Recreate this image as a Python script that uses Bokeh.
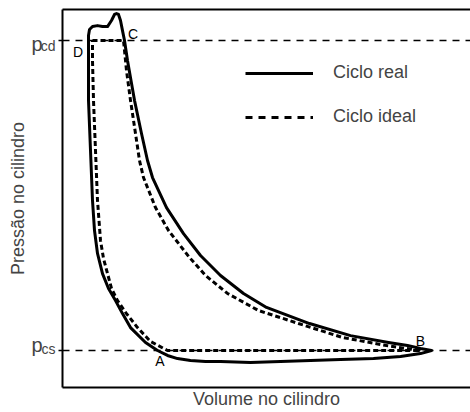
from bokeh.plotting import figure
from bokeh.models import (Range1d, LinearAxis, FixedTicker, Span, Legend,
                          LegendItem, ColumnDataSource, CustomJSTickFormatter)
from bokeh.core.properties import value
from bokeh.embed import file_html
from bokeh.resources import INLINE

FONT = "Liberation Sans"

# pressure levels (p_cs = suction, p_cd = discharge)
p_levels = [1.0, 11.0]
p_names = ["cs", "cd"]

# real cycle (solid) : volume, pressure  (suction -> B -> compression -> C -> D -> expansion)
real_v = [23.75, 26.25, 28.75, 32.0, 35.75, 39.5, 47.0, 54.5, 62.0, 69.5, 77.75,
          84.5, 89.5, 92.25, 89.5, 86.25, 81.5, 72.0, 61.75, 51.0, 45.25, 39.5,
          34.5, 30.25, 26.0, 22.5, 21.25, 19.75, 18.0, 17.125, 16.25, 15.5,
          15.0, 14.5, 14.0, 13.5, 13.0, 12.25, 11.25, 10.0, 8.75, 7.5, 6.75, 6.5,
          6.5, 6.5, 7.0, 7.5, 8.0, 8.75, 10.0, 11.5, 13.25, 15.0, 17.0, 20.75, 23.75]
real_p = [1.0, 0.84, 0.74, 0.68, 0.645, 0.645, 0.61, 0.645, 0.68, 0.71, 0.74,
          0.81, 0.90, 1.0, 1.065, 1.16, 1.26, 1.48, 1.87, 2.39, 2.84, 3.42,
          4.065, 4.77, 5.61, 6.58, 7.13, 8.0, 9.07, 9.71, 10.355, 11.0,
          11.32, 11.645, 11.84, 11.87, 11.84, 11.645, 11.45, 11.45, 11.48, 11.45,
          11.355, 11.16, 10.355, 9.07, 7.45, 5.84, 4.87, 4.13, 3.48, 3.0, 2.61,
          2.19, 1.74, 1.26, 1.0]

# ideal cycle (dashed)  D -> C -> compression -> B -> A -> expansion -> D
ideal_v = [7.5, 15.25, 16.0, 17.0, 18.25, 19.25, 20.25, 23.25, 26.5, 31.75, 35.75,
           41.25, 49.0, 59.0, 70.0, 81.0, 87.75, 89.5, 26.25, 22.0, 18.75, 16.0,
           13.75, 12.25, 10.25, 9.5, 8.75, 8.25, 7.75, 7.5, 7.5]
ideal_p = [11.0, 11.0, 10.03, 9.07, 8.0, 7.13, 6.58, 5.61, 4.87, 4.0, 3.42,
           2.84, 2.29, 1.87, 1.42, 1.16, 1.03, 1.0, 1.0, 1.29, 1.74, 2.19, 2.61,
           3.0, 3.97, 4.55, 5.84, 7.45, 9.07, 10.355, 11.0]

# state points of the ideal cycle
pt_names = ["A", "B", "C", "D"]
pt_v = [26.25, 89.5, 15.25, 7.5]
pt_p = [1.0, 1.0, 11.0, 11.0]

PX_PER_P = 31.0  # frame pixels per pressure unit

p = figure(width=470, height=412, output_backend="svg", toolbar_location=None,
           x_range=Range1d(0, 102), y_range=Range1d(-0.1935, 12.0),
           x_axis_type=None, y_axis_type=None,
           min_border_left=62, min_border_right=0, min_border_top=9,
           min_border_bottom=25)
p.outline_line_color = None
p.background_fill_color = "white"
p.border_fill_color = "white"

blank = CustomJSTickFormatter(code="return ''")


def bare(ax):
    ax.major_label_standoff = 0
    ax.minor_tick_line_color = None
    ax.major_tick_in = 0
    ax.major_tick_out = 0


# innermost left axis: frame line + small tick marks at the two pressures
ax_a = LinearAxis(ticker=FixedTicker(ticks=p_levels), formatter=blank)
bare(ax_a)
ax_a.major_tick_out = 4
ax_a.major_tick_line_width = 1.3
ax_a.axis_line_width = 2
p.add_layout(ax_a, "left")

# subscripts "cs" / "cd" (label centres shifted from the line levels)
sub_ticks = [p_levels[0] + 1.8 / PX_PER_P, p_levels[1] - 5.2 / PX_PER_P]
ax_b = LinearAxis(ticker=FixedTicker(ticks=sub_ticks),
                  formatter=CustomJSTickFormatter(args=dict(names=p_names),
                                                  code="return names[index]"))
bare(ax_b)
ax_b.major_tick_line_color = None
ax_b.axis_line_color = None
ax_b.major_label_standoff = 3
ax_b.major_label_text_font = FONT
ax_b.major_label_text_font_size = "14px"
p.add_layout(ax_b, "left")

# the "p" of p_cs / p_cd, plus the axis title
p_ticks = [p_levels[0] + 5.4 / PX_PER_P, p_levels[1] - 3.1 / PX_PER_P]
ax_c = LinearAxis(ticker=FixedTicker(ticks=p_ticks),
                  formatter=CustomJSTickFormatter(code="return 'p'"),
                  axis_label="Pressão no cilindro")
bare(ax_c)
ax_c.major_tick_line_color = None
ax_c.axis_line_color = None
ax_c.major_label_standoff = -5
ax_c.major_label_text_font = FONT
ax_c.major_label_text_font_size = "20px"
ax_c.axis_label_text_font = FONT
ax_c.axis_label_text_font_size = "18px"
ax_c.axis_label_text_font_style = "normal"
ax_c.axis_label_standoff = 0
p.add_layout(ax_c, "left")

bottom = LinearAxis(ticker=FixedTicker(ticks=[]), axis_label="Volume no cilindro")
bare(bottom)
bottom.major_tick_line_color = None
bottom.axis_line_width = 2
bottom.axis_label_text_font = FONT
bottom.axis_label_text_font_size = "18px"
bottom.axis_label_text_font_style = "normal"
bottom.axis_label_standoff = 1
p.add_layout(bottom, "below")

top = LinearAxis(ticker=FixedTicker(ticks=[]))
bare(top)
top.major_tick_line_color = None
top.axis_line_width = 2
p.add_layout(top, "above")

# pressure reference lines
for lv in p_levels:
    p.add_layout(Span(location=lv, dimension="width", line_color="black",
                      line_width=1.3, line_dash="7 6"))

r_real = p.line(real_v, real_p, line_color="black", line_width=3,
                line_join="round")
r_ideal = p.line(ideal_v, ideal_p, line_color="black", line_width=3,
                 line_dash="5 3")
# legend key for the ideal cycle: a single point (draws nothing in the plot),
# styled with the wider dash pattern that the key shows
r_ideal_key = p.line(ideal_v[:1], ideal_p[:1], line_color="black",
                     line_width=3, line_dash="7 6")

# point letters
src = ColumnDataSource(dict(x=pt_v, y=pt_p, t=pt_names,
                            dx=[-7.5, 0, 9.5, -14.5], dy=[10, -10, -7, 11.5]))
p.text(x="x", y="y", text="t", source=src, x_offset="dx", y_offset="dy",
       text_font=value(FONT), text_font_size="14px", text_align="center",
       text_baseline="middle", text_color="black")

legend = Legend(items=[LegendItem(label="Ciclo real", renderers=[r_real]),
                       LegendItem(label="Ciclo ideal", renderers=[r_ideal_key])],
                location=(183, 260), glyph_width=68, glyph_height=20,
                label_height=20, label_standoff=20, spacing=23, padding=0,
                margin=0, border_line_color=None, background_fill_alpha=0,
                label_text_font=FONT, label_text_font_size="18px")
p.add_layout(legend)

open("out.html", "w").write(file_html(p, INLINE))
